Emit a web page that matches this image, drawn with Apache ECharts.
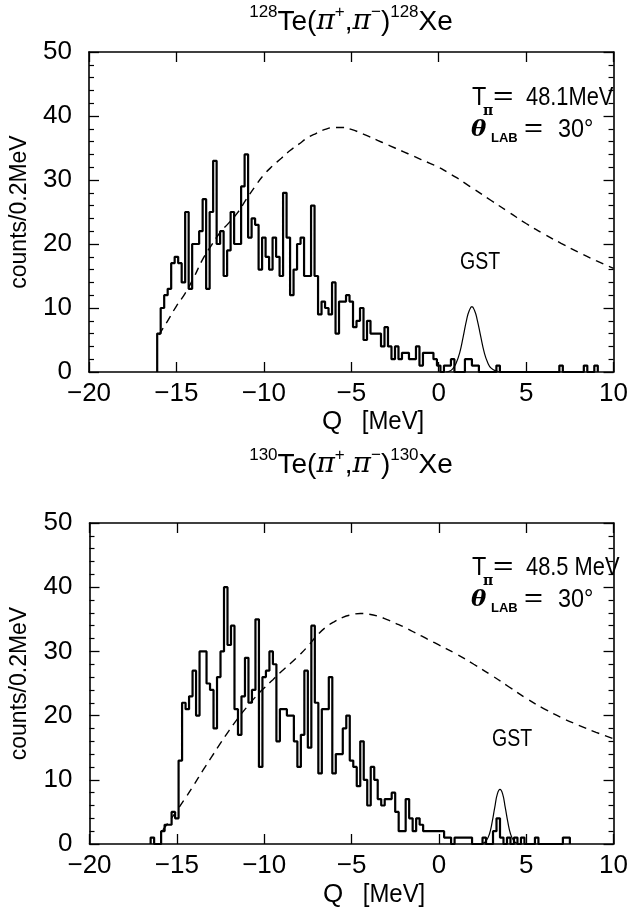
<!DOCTYPE html>
<html><head><meta charset="utf-8">
<script src="https://cdn.jsdelivr.net/npm/echarts@6/dist/echarts.min.js"></script>
<style>html,body{margin:0;padding:0;background:#fff}#c{width:631px;height:915px}</style>
</head><body><div id="c"></div>
<script>
// ---------- data ----------
const binWidth = 0.2;
// 128Te histogram: first bin left edge, counts per 0.2 MeV bin
const hist1Start = -16.1;
const hist1 = [6,10,12,13,17,18,17,14,25,13, 20,20,22,27,13,25,33,20,22,15,
  19,25,20,20,29,34,21,24,23,16, 21,18,16,21,18,15,28,21,12,16,
  20,21,15,15,26,15,9,11,10,9, 14,6,11,11,12,11,7,8,10,5,
  8,6,6,6,4,7,4,2,4,2, 3,3,2,2,4,1,3,3,3,2,
  1,0,1,1,2,0,0,0,2,2, 1,1,0,0,0,0,0,1,0,0,
  0,0,0,0,0,0,0,0,0,0, 0,0,0,0,0,1,0,0,0,0,
  0,0,1,0,0,1];
// 130Te histogram
const hist2Start = -16.5;
const hist2 = [1,0,0,2,3,3,5,4,13,22, 21,23,27,20,30,30,25,24,18,26,
  30,40,31,34,21,17,23,29,22,24, 35,12,26,27,30,28,16,21,21,20,
  20,16,12,17,27,15,34,22,11,21, 21,26,11,14,14,18,20,13,12,9,
  16,10,6,12,10,7,6,7,7,8, 5,2,2,7,4,2,4,3,2,2,
  2,2,2,2,1,1,0,1,1,1, 1,1,0,0,0,1,0,0,2,4,
  1,0,1,0,1,0,1,0,0,0, 1,0,0,0,0,0,0,0,1,1];
// dashed curves (Q, counts)
const dashQ1 = [-16,-15.5,-15,-14.5,-14,-13.5,-13,-12.5,-12,-11.5,-11,-10.5,-10,-9.5,-9,-8.5,-8,-7.5,-7,-6.5,-6,-5.5,-5,-4.5,-4,-3.5,-3,-2.5,-2,-1.5,-1,-0.5,0,0.5,1,1.5,2,3,4,5,6,7,8,9,10];
const dashY1 = [5.8,8,10.3,12.3,14.8,17.6,19.8,21.8,23.3,24.9,27,29,30.8,32.2,33.4,34.6,35.6,36.6,37.3,37.9,38.2,38.2,37.9,37.4,36.8,36.2,35.6,35,34.4,33.8,33.2,32.6,32,31.2,30.4,29.5,28.6,26.8,25,23.2,21.6,20.1,18.7,17.4,16.2];
const dashQ2 = [-15.8,-15.5,-15,-14.5,-14,-13.5,-13,-12.5,-12,-11.5,-11,-10.5,-10,-9.5,-9,-8.5,-8,-7.5,-7,-6.5,-6,-5.5,-5,-4.5,-4,-3.5,-3,-2.5,-2,-1.5,-1,-0.5,0,1,2,3,4,5,6,7,8,9,10];
const dashY2 = [2.2,3.3,5.2,7.2,9.3,11.5,13.6,15.7,17.7,19.6,21.3,22.9,24.3,25.6,26.9,28.1,29.4,30.8,32.4,33.7,34.6,35.3,35.7,35.9,35.8,35.5,35,34.4,33.8,33.1,32.4,31.7,31,29.6,28,26.3,24.5,22.7,21.1,19.7,18.5,17.4,16.4];
// GST peaks (Q, counts)
const gstQ1 = [0.4,0.6,0.8,1.0,1.2,1.4,1.6,1.75,1.9,2.05,2.2,2.4,2.6,2.8,3.0,3.3,3.6];
const gstY1 = [0,0.1,0.5,1.4,3.0,5.5,8.2,9.6,10.2,9.6,8.2,5.6,3.1,1.5,0.6,0.15,0];
const gstQ2 = [2.3,2.5,2.7,2.9,3.05,3.2,3.35,3.5,3.65,3.8,3.95,4.1,4.3,4.5,4.7];
const gstY2 = [0,0.09,0.45,1.6,3.4,5.7,7.8,8.5,7.8,5.7,3.4,1.6,0.45,0.09,0];
// axis ticks
const xTicks = [-20,-15,-10,-5,0,5,10];
const yTicks = [0,10,20,30,40,50];

// ---------- chart ----------
const FONT = 'Liberation Sans';
const chart = echarts.init(document.getElementById('c'), null, {renderer:'canvas'});

function stepPts(start, counts){
  const p = [[start,0]];
  counts.forEach((c,i)=>p.push([+(start+i*binWidth).toFixed(2), c]));
  p.push([+(start+counts.length*binWidth).toFixed(2), 0]);
  return p;
}
function zipPts(q,y){ return q.map((v,i)=>[v,y[i]]); }
const fmtX = v => v < 0 ? '\u2212' + Math.abs(v) : String(v);

const grids = [
  {left:88, top:52, width:532, height:320},
  {left:89.5, top:523, width:532, height:321}
];
const xAxes = [], yAxes = [];
grids.forEach((g,i)=>{
  const axLine = {show:true, onZero:false, lineStyle:{color:'#000', width:1.6}};
  const tick = {inside:true, length:10, lineStyle:{color:'#000', width:1.3}};
  xAxes.push({gridIndex:i, type:'value', min:xTicks[0], max:xTicks[xTicks.length-1], interval:5, position:'bottom',
    axisLine:axLine, axisTick:tick,
    axisLabel:{formatter:fmtX, fontSize:26, color:'#000', fontFamily:FONT, margin:9},
    splitLine:{show:false}});
  xAxes.push({gridIndex:i, type:'value', min:xTicks[0], max:xTicks[xTicks.length-1], interval:5, position:'top',
    axisLine:axLine, axisTick:tick, axisLabel:{show:false}, splitLine:{show:false}});
  yAxes.push({gridIndex:i, type:'value', min:yTicks[0], max:yTicks[yTicks.length-1], interval:10, position:'left',
    axisLine:axLine, axisTick:tick,
    minorTick:{show:true, splitNumber:5, length:5, lineStyle:{color:'#000', width:1.2}},
    axisLabel:{fontSize:26, color:'#000', fontFamily:FONT, margin:17},
    name:'counts/0.2MeV', nameLocation:'middle', nameGap:58, nameRotate:90,
    nameTextStyle:{fontSize:23, color:'#000', fontFamily:FONT},
    splitLine:{show:false}, minorSplitLine:{show:false}});
  yAxes.push({gridIndex:i, type:'value', min:yTicks[0], max:yTicks[yTicks.length-1], interval:10, position:'right',
    axisLine:axLine, axisTick:tick,
    minorTick:{show:true, splitNumber:5, length:5, lineStyle:{color:'#000', width:1.2}},
    axisLabel:{show:false}, splitLine:{show:false}, minorSplitLine:{show:false}});
});

function panelSeries(i, hs, h, dq, dy, gq, gy){
  return [
    {type:'line', xAxisIndex:2*i, yAxisIndex:2*i, data:stepPts(hs,h), step:'end', symbol:'none',
     lineStyle:{color:'#000', width:2.2}, z:4, silent:true},
    {type:'line', xAxisIndex:2*i, yAxisIndex:2*i, data:zipPts(dq,dy), smooth:true, symbol:'none',
     lineStyle:{color:'#000', width:1.4, type:[8,6]}, z:3, silent:true},
    {type:'line', xAxisIndex:2*i, yAxisIndex:2*i, data:zipPts(gq,gy), smooth:true, symbol:'none',
     lineStyle:{color:'#000', width:1.2}, z:3, silent:true}
  ];
}

function txt(x,y,text,size,extra,sx){
  return {type:'text', x:x, y:y, scaleX:sx||1, silent:true,
    style:Object.assign({text:text, fontSize:size, fontFamily:FONT, fill:'#000', align:'left', verticalAlign:'middle'}, extra||{})};
}
function title(x,y,mass){
  return {type:'text', x:x, y:y, silent:true, style:{
    text:'{s|'+mass+'}{n|Te(}{p|\u03c0}{s|+}{n|,}{p|\u03c0}{s|\u2212}{n|)}{s|'+mass+'}{n|Xe}',
    align:'center', verticalAlign:'middle', fill:'#000',
    rich:{
      n:{fontSize:28, fontFamily:FONT, lineHeight:32, verticalAlign:'bottom'},
      p:{fontSize:28, fontFamily:'DejaVu Serif', fontStyle:'italic', lineHeight:32, verticalAlign:'bottom'},
      s:{fontSize:17, fontFamily:FONT, lineHeight:17, verticalAlign:'top'}
    }}};
}
function annot(y0, energy){
  return [
    txt(472, y0, 'T', 26, null, 0.9),
    txt(483, y0+13, '\u03c0', 14, {fontWeight:'bold', fontFamily:'DejaVu Serif'}),
    txt(493, y0-1, '=', 26, null, 1.35),
    txt(526, y0, energy, 26, null, 0.84),
    txt(471, y0+32, '\u03b8', 23, {fontWeight:'bold', fontStyle:'italic', fontFamily:'DejaVu Serif'}),
    txt(491, y0+40, 'LAB', 13, {fontWeight:'bold'}),
    txt(524, y0+31, '=', 26, null, 1.25),
    txt(558, y0+32, '30\u00b0', 26, null, 0.9)
  ];
}

const graphics = [].concat(
  [title(351, 20, '128'), title(351, 463, '130')],
  annot(98, '48.1MeV'), annot(568, '48.5 MeV'),
  [txt(460, 263, 'GST', 23, null, 0.85), txt(492, 740, 'GST', 23, null, 0.85)],
  [txt(332, 422, 'Q', 26, {align:'center'}), txt(393, 422, '[MeV]', 26, {align:'center'}, 0.92),
   txt(333, 895, 'Q', 26, {align:'center'}), txt(394, 895, '[MeV]', 26, {align:'center'}, 0.92)]
);

chart.setOption({
  animation:false,
  backgroundColor:'#fff',
  grid:grids,
  xAxis:xAxes,
  yAxis:yAxes,
  series:[].concat(
    panelSeries(0, hist1Start, hist1, dashQ1, dashY1, gstQ1, gstY1),
    panelSeries(1, hist2Start, hist2, dashQ2, dashY2, gstQ2, gstY2)
  ),
  graphic:graphics
});
</script></body></html>
